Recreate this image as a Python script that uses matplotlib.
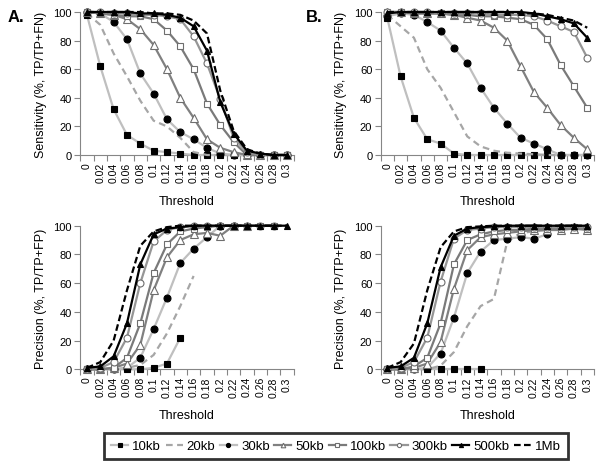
import numpy as np
import matplotlib
matplotlib.use("Agg")
import matplotlib.pyplot as plt
from matplotlib.lines import Line2D

plt.rcParams['font.family'] = ['Liberation Sans', 'DejaVu Sans']

thresholds = ['0', '0.02', '0.04', '0.06', '0.08', '0.1', '0.12', '0.14', '0.16',
              '0.18', '0.2', '0.22', '0.24', '0.26', '0.28', '0.3']
series_names = ['10kb', '20kb', '30kb', '50kb', '100kb', '300kb', '500kb', '1Mb']
nan = np.nan

# Panel A - sensitivity
sensA_10kb = [98, 62, 32, 14, 8, 3, 2, 1, 0, 0, 0, 0, 0, 0, 0, 0]
sensA_20kb = [99, 91, 71, 55, 38, 24, 20, 12, 2, 0, 0, 0, 0, 0, 0, 0]
sensA_30kb = [100, 99, 93, 81, 57, 43, 25, 16, 11, 5, 1, 0, 0, 0, 0, 0]
sensA_50kb = [100, 99, 98, 95, 88, 77, 60, 40, 26, 11, 5, 2, 0, 0, 0, 0]
sensA_100kb = [100, 99, 98, 97, 97, 95, 87, 76, 60, 36, 21, 9, 0, 0, 0, 0]
sensA_300kb = [100, 100, 99, 99, 98, 98, 97, 95, 83, 64, 39, 12, 2, 0, 0, 0]
sensA_500kb = [100, 100, 100, 100, 99, 99, 98, 96, 90, 73, 37, 15, 3, 1, 0, 0]
sensA_1Mb = [100, 100, 100, 100, 100, 99, 99, 98, 94, 85, 45, 17, 4, 1, 0, 0]

# Panel B - sensitivity
sensB_10kb = [96, 55, 26, 11, 8, 1, 0, 0, 0, 0, 0, 0, 0, 0, 0, 0]
sensB_20kb = [98, 90, 82, 60, 47, 30, 13, 6, 3, 1.5, 1, 0.5, 0, 0, 0, 0]
sensB_30kb = [97, 99, 98, 93, 87, 75, 64, 47, 33, 22, 12, 8, 4, 0, 0, 0]
sensB_50kb = [100, 100, 99, 99, 99, 98, 96, 94, 89, 80, 62, 44, 33, 21, 12, 4]
sensB_100kb = [100, 100, 99, 99, 99, 98, 98, 97, 97, 96, 95, 91, 81, 63, 48, 33]
sensB_300kb = [100, 100, 100, 100, 99, 99, 99, 99, 98, 98, 98, 97, 94, 90, 86, 68]
sensB_500kb = [99, 100, 100, 100, 100, 100, 100, 100, 100, 100, 100, 99, 97, 95, 92, 82]
sensB_1Mb = [100, 100, 100, 100, 100, 100, 100, 100, 100, 100, 99, 99, 98, 96, 94, 89]

# Panel A - precision
precA_10kb = [0, 0, 0, 0, 0, 1, 4, 22, nan, nan, nan, nan, nan, nan, nan, nan]
precA_20kb = [0, 0, 0, 1, 3, 10, 25, 44, 65, nan, nan, nan, nan, nan, nan, nan]
precA_30kb = [0, 0, 0, 1, 8, 28, 50, 74, 84, 92, 100, 100, nan, nan, nan, nan]
precA_50kb = [0, 0, 1, 4, 17, 55, 78, 90, 94, 95, 93, 100, 100, nan, nan, nan]
precA_100kb = [0, 0, 1, 8, 32, 67, 87, 96, 98, 99, 100, 100, 100, 100, 100, nan]
precA_300kb = [0, 1, 5, 22, 60, 89, 97, 99, 100, 100, 100, 100, 100, 100, 100, nan]
precA_500kb = [1, 2, 9, 32, 73, 94, 98, 99, 100, 100, 100, 100, 100, 100, 100, 100]
precA_1Mb = [1, 5, 20, 55, 86, 96, 99, 100, 100, 100, 100, 100, 100, 100, 100, 100]

# Panel B - precision
precB_10kb = [0, 0, 0, 0, 0, 0, 0, 0, nan, nan, nan, nan, nan, nan, nan, nan]
precB_20kb = [0, 0, 0, 0, 2.5, 12, 30, 44, 49, 89, 95, 96, 97, nan, nan, nan]
precB_30kb = [0, 0, 0, 1, 11, 36, 67, 82, 90, 91, 92, 91, 94, nan, nan, nan]
precB_50kb = [0, 0, 1, 4, 19, 56, 83, 92, 94, 95, 96, 97, 97, 97, 98, 97]
precB_100kb = [0, 0, 2, 8, 32, 73, 90, 94, 96, 97, 97, 98, 98, 98, 99, 98]
precB_300kb = [0, 1, 5, 22, 61, 91, 97, 98, 99, 99, 99, 99, 99, 99, 99, 99]
precB_500kb = [1, 2, 8, 32, 71, 93, 98, 99, 99.5, 100, 100, 100, 100, 100, 100, 100]
precB_1Mb = [1, 5, 18, 55, 85, 96, 99, 99.5, 100, 100, 100, 100, 100, 100, 100, 100]

styles = {
    '10kb': dict(color='#BFBFBF', ls='-', marker='s', mfc='black', mec='black', ms=5),
    '20kb': dict(color='#A6A6A6', ls=(0, (3, 2)), marker=None),
    '30kb': dict(color='#BFBFBF', ls='-', marker='o', mfc='black', mec='black', ms=5),
    '50kb': dict(color='#808080', ls='-', marker='^', mfc='white', mec='#6E6E6E', ms=5.5),
    '100kb': dict(color='#7A7A7A', ls='-', marker='s', mfc='white', mec='#6E6E6E', ms=5),
    '300kb': dict(color='#969696', ls='-', marker='o', mfc='white', mec='#6E6E6E', ms=5),
    '500kb': dict(color='black', ls='-', marker='^', mfc='black', mec='black', ms=5),
    '1Mb': dict(color='black', ls=(0, (3, 1.5)), marker=None),
}

panels = [
    ([sensA_10kb, sensA_20kb, sensA_30kb, sensA_50kb, sensA_100kb, sensA_300kb, sensA_500kb, sensA_1Mb],
     'Sensitivity (%, TP/TP+FN)', [80.3 / 600, 1 - 156 / 477, 213.3 / 600, 143 / 477]),
    ([sensB_10kb, sensB_20kb, sensB_30kb, sensB_50kb, sensB_100kb, sensB_300kb, sensB_500kb, sensB_1Mb],
     'Sensitivity (%, TP/TP+FN)', [380.6 / 600, 1 - 156 / 477, 213.3 / 600, 143 / 477]),
    ([precA_10kb, precA_20kb, precA_30kb, precA_50kb, precA_100kb, precA_300kb, precA_500kb, precA_1Mb],
     'Precision (%, TP/TP+FP)', [80.3 / 600, 1 - 370.3 / 477, 213.3 / 600, 143.6 / 477]),
    ([precB_10kb, precB_20kb, precB_30kb, precB_50kb, precB_100kb, precB_300kb, precB_500kb, precB_1Mb],
     'Precision (%, TP/TP+FP)', [380.6 / 600, 1 - 370.3 / 477, 213.3 / 600, 143.6 / 477]),
]

fig = plt.figure(figsize=(6, 4.77), dpi=100)
x = np.arange(len(thresholds))
axis_col = '#868686'

for data, ylabel, rect in panels:
    ax = fig.add_axes(rect)
    for name, vals in zip(series_names, data):
        st = styles[name]
        ax.plot(x, vals, color=st['color'], ls=st['ls'], lw=1.6,
                marker=st.get('marker'), markerfacecolor=st.get('mfc'),
                markeredgecolor=st.get('mec'), markersize=st.get('ms', 0),
                markeredgewidth=0.8, clip_on=False, zorder=3)
    ax.set_xlim(-0.5, len(thresholds) - 0.5)
    ax.set_ylim(0, 100)
    ax.set_yticks(range(0, 101, 20))
    ax.set_xticks(x)
    ax.set_xticklabels(thresholds, rotation=90)
    ax.set_xticks(np.arange(-0.5, len(thresholds), 1), minor=True)
    ax.tick_params(axis='x', which='major', length=0, labelsize=7.5, pad=5)
    ax.tick_params(axis='x', which='minor', length=4, color=axis_col, width=0.8)
    ax.tick_params(axis='y', length=4, color=axis_col, width=0.8, labelsize=8, pad=2)
    for s in ['top', 'right']:
        ax.spines[s].set_visible(False)
    for s in ['left', 'bottom']:
        ax.spines[s].set_color(axis_col)
        ax.spines[s].set_linewidth(0.8)
    ax.set_xlabel('Threshold', fontsize=9, labelpad=9)
    ax.set_ylabel(ylabel, fontsize=9, labelpad=5)

fig.text(8 / 600, 1 - 18 / 477, 'A.', fontsize=12, fontweight='bold', va='center', ha='left')
fig.text(306 / 600, 1 - 18 / 477, 'B.', fontsize=12, fontweight='bold', va='center', ha='left')

handles = []
for name in series_names:
    st = styles[name]
    handles.append(Line2D([], [], color=st['color'], ls=st['ls'], lw=1.6,
                          marker=st.get('marker'), markerfacecolor=st.get('mfc'),
                          markeredgecolor=st.get('mec'), markersize=st.get('ms', 0) * 0.6,
                          markeredgewidth=0.8))
leg = fig.legend(handles, series_names, loc='center', ncol=8,
                 bbox_to_anchor=(336 / 600, 1 - 447 / 477), fontsize=9.5,
                 frameon=True, fancybox=False, handlelength=1.3, handletextpad=0.3,
                 columnspacing=0.35, borderpad=0.5)
leg.get_frame().set_edgecolor('black')
leg.get_frame().set_linewidth(2)

fig.savefig('out.png', dpi=100)
